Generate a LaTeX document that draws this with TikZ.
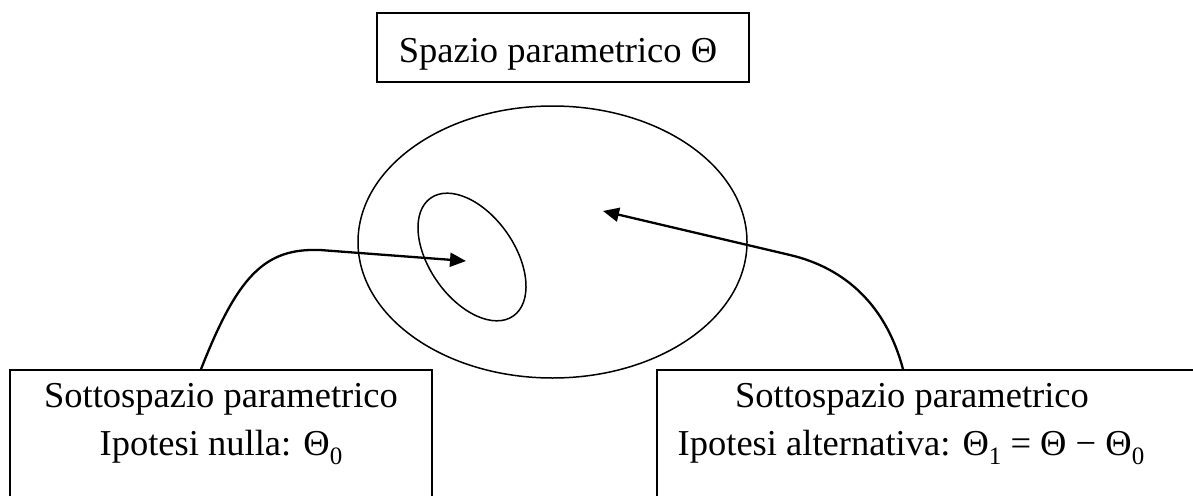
\documentclass[tikz,border=0pt]{standalone}
\usepackage{fontspec}
\setmainfont{Liberation Serif}
\usetikzlibrary{shapes.geometric,arrows.meta,calc}
\newcommand\thsub[1]{\raisebox{-9pt}{\fontsize{25}{25}\selectfont #1}}
\begin{document}
\begin{tikzpicture}[x=1pt,y=-1pt,
  box/.style={draw,line width=1.6pt,rectangle,inner sep=0pt},
  txt/.style={font=\fontsize{36.5}{48}\selectfont,anchor=base,inner sep=0pt},
  setshape/.style={draw,ellipse,line width=1.5pt,inner sep=0pt},
  arr/.style={line width=2.3pt,-{Triangle[length=16pt,width=14pt]}}]
\useasboundingbox (0,0) rectangle (1193,495);
\clip (0,0) rectangle (1193,495);
% boxes
\node[box,minimum width=372pt,minimum height=69pt] (topbox) at (563,47.5) {};
\node[box,minimum width=422pt,minimum height=150pt] (lbox) at (221,445) {};
\node[box,minimum width=553pt,minimum height=150pt] (rbox) at (933.5,445) {};
% texts
\node[txt] (ttop) at (558,63) {Spazio parametrico Θ};
\node[txt] (tl1) at (221,407) {Sottospazio parametrico};
\node[txt] (tl2) at (221,455) {Ipotesi nulla: Θ\thsub{0}};
\node[txt] (tr1) at (912,407) {Sottospazio parametrico};
\node[txt] (tr2) at (911,455) {Ipotesi alternativa: Θ\thsub{1} = Θ − Θ\thsub{0}};
% sets
\node[setshape,minimum width=389pt,minimum height=272pt] (theta) at (552.5,242) {};
\node[setshape,minimum width=144pt,minimum height=85pt,rotate=-55] (theta0) at (472,257) {};
% arrow targets
\coordinate (t0) at (466,261);
\coordinate (t1) at (603,211);
% connectors
\draw[arr] ([xshift=-20pt]lbox.north) .. controls (238,275) and (265,248) .. (320,250) -- (t0);
\draw[arr] ([xshift=-30.5pt]rbox.north) .. controls (886,305) and (845,268) .. (790,255) -- (t1);
\end{tikzpicture}
\end{document}
